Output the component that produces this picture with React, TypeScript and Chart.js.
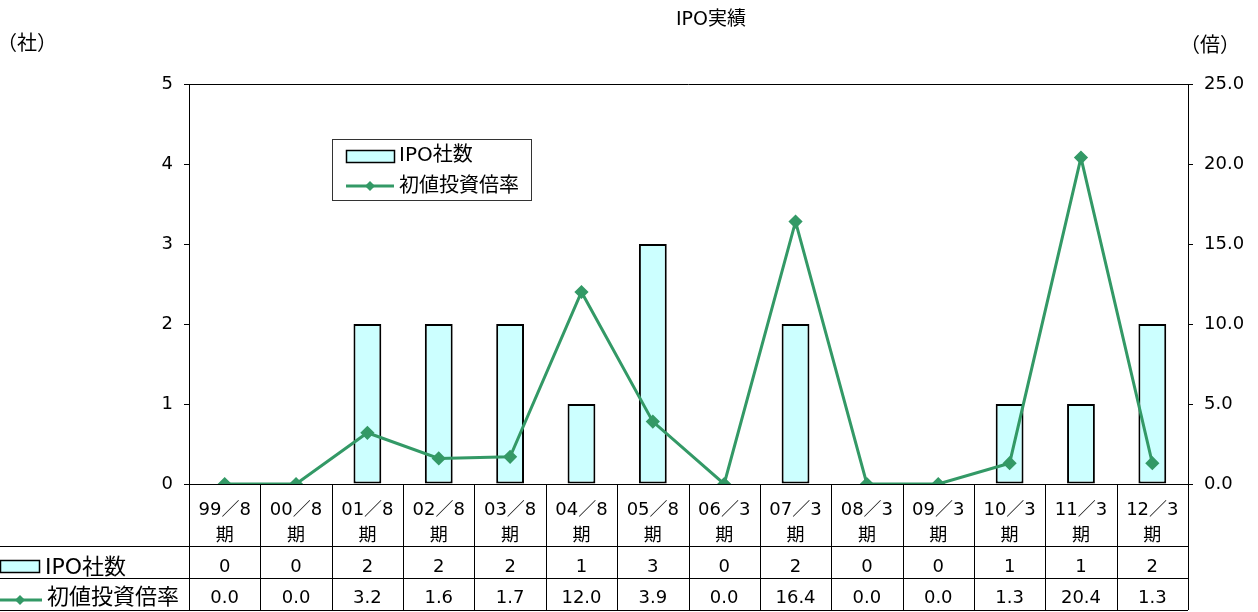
import React, { useEffect, useRef } from "react";
import { Chart, registerables } from "chart.js";

Chart.register(...registerables);

const categories = ["99／8期", "00／8期", "01／8期", "02／8期", "03／8期", "04／8期", "05／8期", "06／3期", "07／3期", "08／3期", "09／3期", "10／3期", "11／3期", "12／3期"];
const ipoCounts = [0, 0, 2, 2, 2, 1, 3, 0, 2, 0, 0, 1, 1, 2];
const multiples = [0.0, 0.0, 3.2, 1.6, 1.7, 12.0, 3.9, 0.0, 16.4, 0.0, 0.0, 1.3, 20.4, 1.3];
const leftTicks = [0, 1, 2, 3, 4, 5];
const rightTicks = [0, 5, 10, 15, 20, 25];
const seriesNames = ["IPO社数", "初値投資倍率"];
const titleText = "IPO実績";
const leftUnit = "（社）";
const rightUnit = "（倍）";

const FONT = '"DejaVu Sans", "Noto Sans CJK JP", sans-serif';
const BAR_FILL = "#CCFFFF";
const LINE_COLOR = "#339966";

const W = 1258;
const H = 612;

const overlay = {
  id: "overlay",
  afterDraw(chart: any) {
    const ctx = chart.ctx as CanvasRenderingContext2D;
    const area = chart.chartArea;
    const x = chart.scales.x;
    ctx.save();
    // title & units
    ctx.fillStyle = "#000";
    ctx.textBaseline = "middle";
    ctx.font = `19px ${FONT}`;
    ctx.textAlign = "center";
    ctx.fillText(titleText, 711, 20);
    ctx.font = `20px ${FONT}`;
    ctx.textAlign = "left";
    ctx.fillText(leftUnit, -3, 45);
    ctx.fillText(rightUnit, 1180, 47);

    // plot top border
    ctx.strokeStyle = "#000";
    ctx.lineWidth = 1;
    ctx.beginPath();
    ctx.moveTo(area.left, area.top + 0.5);
    ctx.lineTo(area.right, area.top + 0.5);
    ctx.stroke();

    // legend box
    const lx = 332, ly = 139, lw = 199, lh = 61;
    ctx.strokeStyle = "#333";
    ctx.strokeRect(lx + 0.5, ly + 0.5, lw, lh);
    ctx.fillStyle = BAR_FILL;
    ctx.fillRect(346, 150, 48, 12);
    ctx.strokeStyle = "#000";
    ctx.lineWidth = 1.5;
    ctx.strokeRect(346.5, 150.5, 48, 12);
    ctx.strokeStyle = LINE_COLOR;
    ctx.lineWidth = 3;
    ctx.beginPath();
    ctx.moveTo(346, 186);
    ctx.lineTo(394, 186);
    ctx.stroke();
    ctx.fillStyle = LINE_COLOR;
    ctx.beginPath();
    ctx.moveTo(370, 181); ctx.lineTo(375, 186); ctx.lineTo(370, 191); ctx.lineTo(365, 186);
    ctx.closePath(); ctx.fill();
    ctx.fillStyle = "#000";
    ctx.font = `20px ${FONT}`;
    ctx.textAlign = "left";
    ctx.fillText(seriesNames[0], 399, 156);
    ctx.fillText(seriesNames[1], 399, 187);

    // data table
    const rowTops = [area.bottom, 546, 578, 610];
    const n = categories.length;
    const step = (area.right - area.left) / n;
    ctx.strokeStyle = "#000";
    ctx.lineWidth = 1;
    ctx.beginPath();
    for (let i = 0; i <= n; i++) {
      const bx = Math.round(x.getPixelForValue(i) - step / 2) + 0.5;
      ctx.moveTo(bx, area.bottom);
      ctx.lineTo(bx, rowTops[3]);
    }
    for (let r = 1; r < rowTops.length; r++) {
      ctx.moveTo(0, rowTops[r] + 0.5);
      ctx.lineTo(area.right, rowTops[r] + 0.5);
    }
    ctx.stroke();

    ctx.font = `18px ${FONT}`;
    ctx.textAlign = "center";
    ctx.fillStyle = "#000";
    for (let i = 0; i < n; i++) {
      const cx = x.getPixelForValue(i);
      ctx.fillText(String(ipoCounts[i]), cx, 567);
      ctx.fillText(multiples[i].toFixed(1), cx, 598);
    }
    // row legend keys
    ctx.fillStyle = BAR_FILL;
    ctx.fillRect(0, 560, 40, 13);
    ctx.strokeStyle = "#000";
    ctx.lineWidth = 1.5;
    ctx.strokeRect(0.5, 560.5, 39, 12);
    ctx.strokeStyle = LINE_COLOR;
    ctx.lineWidth = 3;
    ctx.beginPath();
    ctx.moveTo(0, 600);
    ctx.lineTo(42, 600);
    ctx.stroke();
    ctx.fillStyle = LINE_COLOR;
    ctx.beginPath();
    ctx.moveTo(20, 595); ctx.lineTo(25, 600); ctx.lineTo(20, 605); ctx.lineTo(15, 600);
    ctx.closePath(); ctx.fill();
    ctx.fillStyle = "#000";
    ctx.textAlign = "left";
    ctx.font = `22px ${FONT}`;
    ctx.fillText(seriesNames[0], 45, 568);
    ctx.fillText(seriesNames[1], 47, 598);
    ctx.restore();
  },
};

export default function App() {
  const ref = useRef<HTMLCanvasElement | null>(null);
  useEffect(() => {
    if (!ref.current) return;
    const chart = new Chart(ref.current, {
      data: {
        labels: categories.map((c) => [c.slice(0, -1), c.slice(-1)]),
        datasets: [
          {
            type: "line",
            label: seriesNames[1],
            data: multiples,
            yAxisID: "y2",
            borderColor: LINE_COLOR,
            backgroundColor: LINE_COLOR,
            borderWidth: 3,
            pointStyle: "rectRot",
            pointRadius: 5,
            pointHoverRadius: 5,
            tension: 0,
            order: 0,
          } as any,
          {
            type: "bar",
            label: seriesNames[0],
            data: ipoCounts,
            yAxisID: "y",
            backgroundColor: BAR_FILL,
            borderColor: "#000",
            borderWidth: 2,
            borderSkipped: false,
            barPercentage: 0.39,
            categoryPercentage: 1,
            order: 1,
          } as any,
        ],
      },
      plugins: [overlay],
      options: {
        responsive: false,
        animation: false,
        devicePixelRatio: 1,
        layout: { padding: { top: 84, left: 0, right: 0, bottom: 0 } },
        plugins: {
          legend: { display: false },
          title: { display: false },
          tooltip: { enabled: false },
        },
        scales: {
          x: {
            offset: true,
            grid: { display: false },
            border: { display: true, color: "#000" },
            ticks: {
              color: "#000",
              padding: 5,
              maxRotation: 0,
              autoSkip: false,
              font: { family: FONT, size: 18, lineHeight: 1.45 },
            },
            afterFit: (s: any) => { s.height = 128; },
          },
          y: {
            position: "left",
            min: 0,
            max: 5,
            afterBuildTicks: (s: any) => { s.ticks = leftTicks.map((v) => ({ value: v })); },
            grid: { drawOnChartArea: false, tickLength: 5, color: "#000" },
            border: { display: true, color: "#000" },
            ticks: {
              color: "#000",
              padding: 11,
              font: { family: FONT, size: 18 },
              callback: (v: any) => String(v),
            },
            afterFit: (s: any) => { s.width = 189; },
          },
          y2: {
            position: "right",
            min: 0,
            max: 25,
            afterBuildTicks: (s: any) => { s.ticks = rightTicks.map((v) => ({ value: v })); },
            grid: { drawOnChartArea: false, tickLength: 5, color: "#000" },
            border: { display: true, color: "#000" },
            ticks: {
              color: "#000",
              padding: 11,
              font: { family: FONT, size: 18 },
              callback: (v: any) => Number(v).toFixed(1),
            },
            afterFit: (s: any) => { s.width = 70; },
          },
        },
      },
    } as any);
    return () => chart.destroy();
  }, []);
  return (
    <div style={{ position: "absolute", left: 0, top: 0, width: W, height: H, background: "#fff" }}>
      <canvas ref={ref} width={W} height={H} />
    </div>
  );
}
